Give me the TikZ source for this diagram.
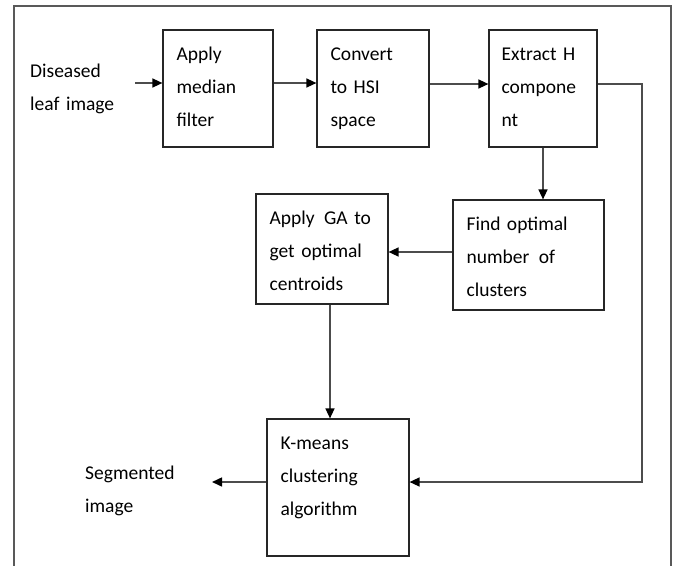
\documentclass[tikz,border=0pt]{standalone}
\usepackage{fontspec}
\setmainfont{Carlito}
\usetikzlibrary{arrows.meta}
\begin{document}
\begin{tikzpicture}[x=1pt,y=-1pt,
  box/.style={draw=black!85, line width=1.2pt, inner sep=0pt, rectangle},
  lbl/.style={inner sep=0pt, anchor=base west, align=left, text width=150pt,
    font=\fontsize{19.5}{33}\selectfont, text=black},
  conn/.style={draw=black!70, line width=1.5pt},
  arr/.style={conn, -{Triangle[length=10pt,width=9pt,color=black]}}]
\useasboundingbox (0,0) rectangle (677,565);
\clip (0,0) rectangle (677,565);
% frame
\draw[draw=black!65, line width=1.5pt] (14,575) -- (14,6) -- (671,6) -- (671,575);
% boxes
\node[box, minimum width=110pt, minimum height=117pt] (b1) at (218,88.5) {};
\node[box, minimum width=112pt, minimum height=117pt] (b2) at (373,88.5) {};
\node[box, minimum width=108pt, minimum height=117pt] (b3) at (543,88.5) {};
\node[box, minimum width=132pt, minimum height=110pt] (b4) at (322,249) {};
\node[box, minimum width=151pt, minimum height=110pt] (b5) at (528.5,255) {};
\node[box, minimum width=142pt, minimum height=137pt] (b6) at (338,487.5) {};
% box texts
\node[lbl] (t1) at ([shift={(14pt,-31pt)}]b1.north west) {Apply\\median\\filter};
\node[lbl] (t2) at ([shift={(14pt,-31pt)}]b2.north west) {Convert\\to HSI\\space};
\node[lbl] (t3) at ([shift={(13pt,-31pt)}]b3.north west) {Extract H\\compone\\nt};
\node[lbl] (t4) at ([shift={(14pt,-31pt)}]b4.north west) {Apply\kern3pt{} GA to\\get optimal\\centroids};
\node[lbl] (t5) at ([shift={(14pt,-31pt)}]b5.north west) {Find optimal\\number\kern3pt{} of\\clusters};
\node[lbl] (t6) at ([shift={(14pt,-31pt)}]b6.north west) {K-means\\clustering\\algorithm};
% free labels
\node[lbl] (tin) at (30,77) {Diseased\\leaf image};
\node[lbl] (tout) at (85,479) {Segmented\\image};
% coordinates
\coordinate (inS) at (135,83);
\coordinate (c1) at (642,84);
\coordinate (c2) at (642,482);
\coordinate (outE) at (212,482);
\coordinate (ya) at (0,252);
\coordinate (xa) at (330,0);
% connectors
\draw[arr] (inS) -- (inS -| b1.west);
\draw[arr] (b1.east |- inS) -- (b2.west |- inS);
\draw[arr] (b2.east |- c1) -- (b3.west |- c1);
\draw[arr] (b3.east |- c1) -- (c1) -- (c2) -- (c2 -| b6.east);
\draw[arr] (b3.south) -- (b3.south |- b5.north);
\draw[arr] (b5.west |- ya) -- (b4.east |- ya);
\draw[arr] (b4.south -| xa) -- (b6.north -| xa);
\draw[arr] (b6.west |- c2) -- (outE);
\end{tikzpicture}
\end{document}
